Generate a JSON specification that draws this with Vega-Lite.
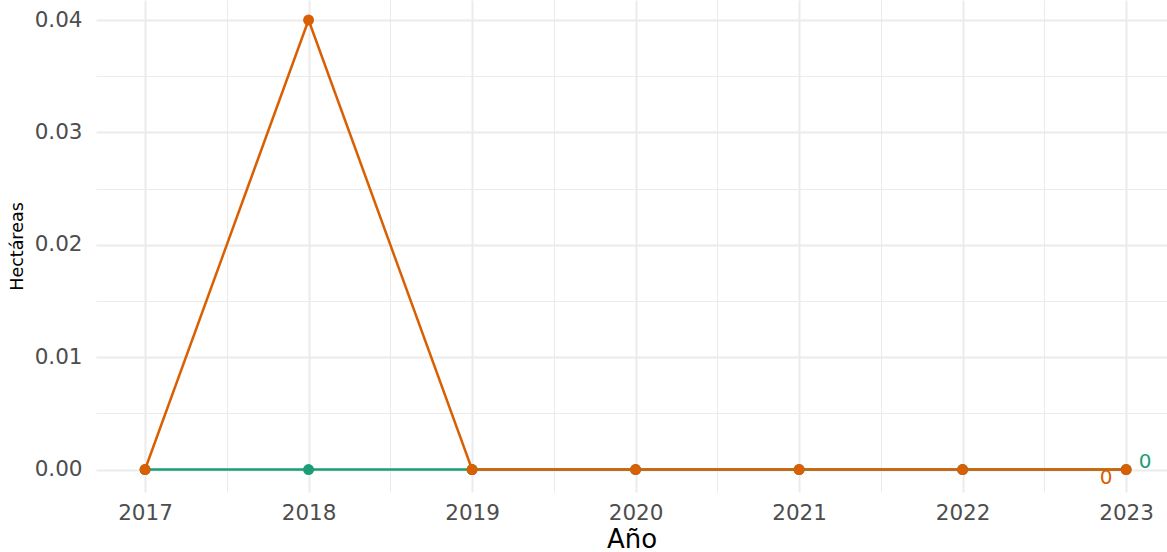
{
  "$schema": "https://vega.github.io/schema/vega-lite/v6.json",
  "autosize": "none",
  "width": 1071,
  "height": 492,
  "padding": {"left": 96, "top": 0, "right": 0, "bottom": 60},
  "background": "white",
  "config": {
    "view": {"stroke": null},
    "font": "DejaVu Sans"
  },
  "data": {
    "values": [
      {"anio": 2017, "ha": 0, "serie": "A"},
      {"anio": 2018, "ha": 0, "serie": "A"},
      {"anio": 2019, "ha": 0, "serie": "A"},
      {"anio": 2020, "ha": 0, "serie": "A"},
      {"anio": 2021, "ha": 0, "serie": "A"},
      {"anio": 2022, "ha": 0, "serie": "A"},
      {"anio": 2023, "ha": 0, "serie": "A"},
      {"anio": 2017, "ha": 0, "serie": "B"},
      {"anio": 2018, "ha": 0.04, "serie": "B"},
      {"anio": 2019, "ha": 0, "serie": "B"},
      {"anio": 2020, "ha": 0, "serie": "B"},
      {"anio": 2021, "ha": 0, "serie": "B"},
      {"anio": 2022, "ha": 0, "serie": "B"},
      {"anio": 2023, "ha": 0, "serie": "B"}
    ]
  },
  "encoding": {
    "x": {
      "field": "anio", "type": "quantitative",
      "scale": {"domain": [2016.7, 2023.25], "nice": false, "zero": false},
      "axis": {
        "title": "Año",
        "values": [2017, 2017.5, 2018, 2018.5, 2019, 2019.5, 2020, 2020.5, 2021, 2021.5, 2022, 2022.5, 2023],
        "labelExpr": "datum.value % 1 == 0 ? datum.value : ''",
        "domain": false, "ticks": false,
        "grid": true, "gridColor": "#EBEBEB",
        "gridWidth": {"condition": {"test": "datum.value % 1 == 0", "value": 2}, "value": 1},
        "labelColor": "#4D4D4D", "labelFontSize": 21.5, "labelPadding": 10,
        "labelFont": "DejaVu Sans",
        "titleColor": "black", "titleFontSize": 26, "titleFontWeight": "normal",
        "titleFont": "DejaVu Sans", "titlePadding": 3
      }
    },
    "y": {
      "field": "ha", "type": "quantitative",
      "scale": {"domain": [-0.002, 0.04178], "nice": false, "zero": false},
      "axis": {
        "title": "Hectáreas",
        "values": [0, 0.005, 0.01, 0.015, 0.02, 0.025, 0.03, 0.035, 0.04],
        "labelExpr": "abs(datum.value*100 - round(datum.value*100)) < 0.000001 ? format(datum.value, '.2f') : ''",
        "domain": false, "ticks": false,
        "grid": true, "gridColor": "#EBEBEB",
        "gridWidth": {"condition": {"test": "abs(datum.value*100 - round(datum.value*100)) < 0.000001", "value": 2}, "value": 1},
        "labelColor": "#4D4D4D", "labelFontSize": 21.5, "labelPadding": 14,
        "labelFont": "DejaVu Sans",
        "titleColor": "black", "titleFontSize": 17.5, "titleFontWeight": "normal",
        "titleFont": "DejaVu Sans", "titlePadding": 8
      }
    },
    "color": {
      "field": "serie", "type": "nominal",
      "scale": {"domain": ["A", "B"], "range": ["#1B9E77", "#D95F02"]},
      "legend": null
    }
  },
  "layer": [
    {"mark": {"type": "line", "strokeWidth": 2.5, "clip": false}},
    {"mark": {"type": "circle", "size": 120, "opacity": 1}},
    {
      "transform": [{"filter": "datum.anio == 2023 && datum.serie == 'A'"}],
      "mark": {"type": "text", "fontSize": 20, "dx": 19, "dy": -8, "font": "DejaVu Sans"},
      "encoding": {"text": {"field": "ha", "type": "quantitative", "format": "d"}}
    },
    {
      "transform": [{"filter": "datum.anio == 2023 && datum.serie == 'B'"}],
      "mark": {"type": "text", "fontSize": 20, "dx": -20, "dy": 8, "font": "DejaVu Sans"},
      "encoding": {"text": {"field": "ha", "type": "quantitative", "format": "d"}}
    }
  ]
}
